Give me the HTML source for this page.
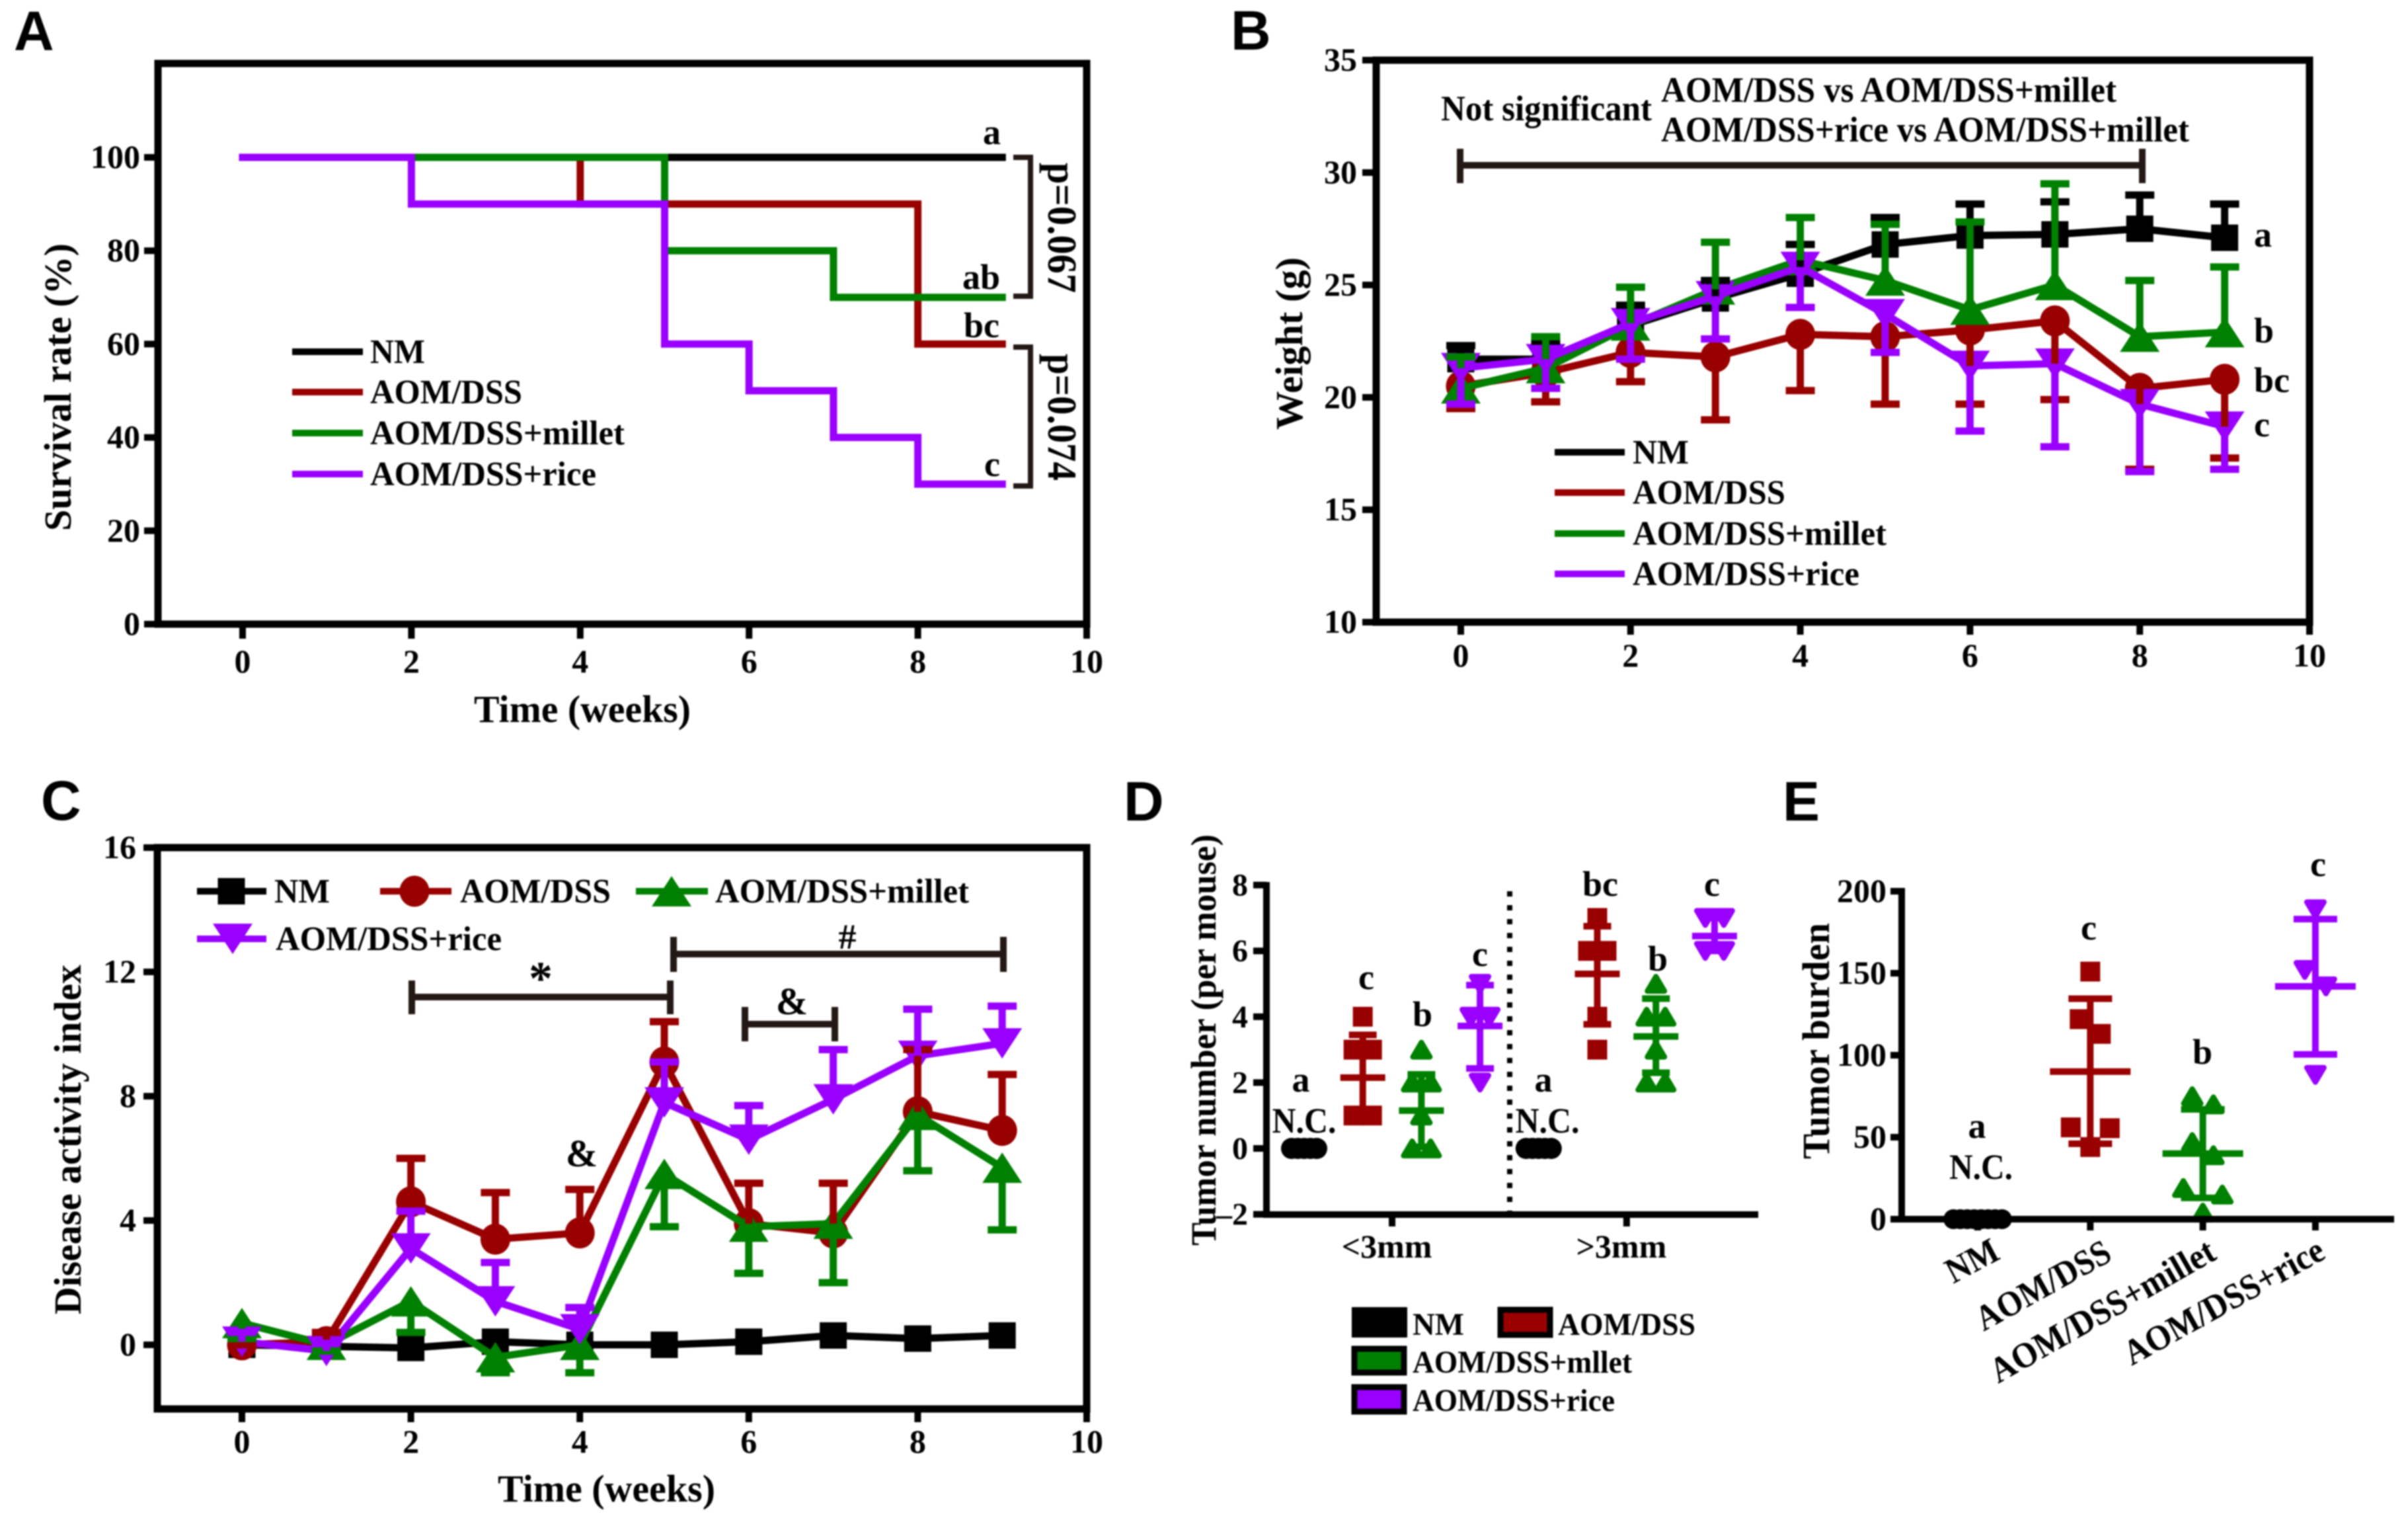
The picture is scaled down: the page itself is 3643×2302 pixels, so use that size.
<!DOCTYPE html>
<html lang="en">
<head>
<meta charset="utf-8">
<title>Survival, weight, disease activity and tumor outcomes</title>
<style>
html,body{margin:0;padding:0;background:#fff;}
svg{display:block;filter:blur(1px);}
text{font-family:"Liberation Serif",serif;font-weight:bold;fill:#000;}
.letter{font-family:"Liberation Sans",sans-serif;font-size:84px;}
.title{font-size:58px;}
.leg{font-size:52px;}
.ann{font-size:54px;}
.pval{font-size:62px;}
.br{fill:none;stroke:#231815;stroke-width:10;}
</style>
</head>
<body>
<svg id="figure" xmlns="http://www.w3.org/2000/svg" width="3643" height="2302" viewBox="0 0 3643 2302">
<rect width="3643" height="2302" fill="#fff"/>

<g id="panelA">
<text class="letter" x="21" y="76">A</text>
<rect x="239" y="96" width="1405" height="848" fill="none" stroke="#000" stroke-width="11"/>
<text class="title" x="717" y="1092" textLength="328" lengthAdjust="spacingAndGlyphs">Time (weeks)</text>
<text class="title" transform="translate(107,803) rotate(-90)" textLength="435" lengthAdjust="spacingAndGlyphs">Survival rate (%)</text>
<g id="seriesA"></g>
<g>
<line x1="442" x2="549" y1="532" y2="532" stroke="#000" stroke-width="10"/>
<text class="leg" x="560" y="549" textLength="83" lengthAdjust="spacingAndGlyphs">NM</text>
<line x1="442" x2="549" y1="593" y2="593" stroke="#900" stroke-width="10"/>
<text class="leg" x="560" y="610" textLength="230" lengthAdjust="spacingAndGlyphs">AOM/DSS</text>
<line x1="442" x2="549" y1="655" y2="655" stroke="#008000" stroke-width="10"/>
<text class="leg" x="560" y="672" textLength="385" lengthAdjust="spacingAndGlyphs">AOM/DSS+millet</text>
<line x1="442" x2="549" y1="717" y2="717" stroke="#90f" stroke-width="10"/>
<text class="leg" x="560" y="734" textLength="342" lengthAdjust="spacingAndGlyphs">AOM/DSS+rice</text>
</g>
<text class="ann" x="1487" y="218">a</text>
<text class="ann" x="1456" y="437">ab</text>
<text class="ann" x="1458" y="510">bc</text>
<text class="ann" x="1489" y="720">c</text>
<path class="br" style="stroke-width:8" d="M1533 238H1559V448H1533"/>
<path class="br" style="stroke-width:8" d="M1533 525H1559V735H1533"/>
<text class="pval" transform="translate(1586,246) rotate(90)" textLength="197" lengthAdjust="spacingAndGlyphs">p=0.067</text>
<text class="pval" transform="translate(1586,535) rotate(90)" textLength="192" lengthAdjust="spacingAndGlyphs">p=0.074</text>
</g>

<g id="panelB">
<text class="letter" x="1862" y="75">B</text>
<rect x="2082" y="91" width="1412" height="850" fill="none" stroke="#000" stroke-width="11"/>
<text class="title" transform="translate(1970,650) rotate(-90)" textLength="261" lengthAdjust="spacingAndGlyphs">Weight (g)</text>
<text class="ann" x="2180" y="182" textLength="319" lengthAdjust="spacingAndGlyphs">Not significant</text>
<text class="ann" x="2513" y="154" textLength="689" lengthAdjust="spacingAndGlyphs">AOM/DSS vs AOM/DSS+millet</text>
<text class="ann" x="2513" y="214" textLength="799" lengthAdjust="spacingAndGlyphs">AOM/DSS+rice vs AOM/DSS+millet</text>
<path class="br" d="M2209 225V277M2209 250H3241M3241 225V277"/>
<g id="seriesB"></g>
<g>
<line x1="2352" x2="2458" y1="684" y2="684" stroke="#000" stroke-width="10"/>
<text class="leg" x="2470" y="701" textLength="85" lengthAdjust="spacingAndGlyphs">NM</text>
<line x1="2352" x2="2458" y1="745" y2="745" stroke="#900" stroke-width="10"/>
<text class="leg" x="2470" y="762" textLength="231" lengthAdjust="spacingAndGlyphs">AOM/DSS</text>
<line x1="2352" x2="2458" y1="807" y2="807" stroke="#008000" stroke-width="10"/>
<text class="leg" x="2470" y="824" textLength="384" lengthAdjust="spacingAndGlyphs">AOM/DSS+millet</text>
<line x1="2352" x2="2458" y1="868" y2="868" stroke="#90f" stroke-width="10"/>
<text class="leg" x="2470" y="885" textLength="343" lengthAdjust="spacingAndGlyphs">AOM/DSS+rice</text>
</g>
<text class="ann" x="3410" y="373">a</text>
<text class="ann" x="3410" y="518">b</text>
<text class="ann" x="3410" y="593">bc</text>
<text class="ann" x="3410" y="660">c</text>
</g>

<g id="panelC">
<text class="letter" x="62" y="1240">C</text>
<rect x="238" y="1282" width="1406" height="849" fill="none" stroke="#000" stroke-width="11"/>
<text class="title" x="753" y="2271" textLength="329" lengthAdjust="spacingAndGlyphs">Time (weeks)</text>
<text class="title" transform="translate(122,1988) rotate(-90)" textLength="529" lengthAdjust="spacingAndGlyphs">Disease activity index</text>
<path class="br" d="M623 1483V1534M623 1508H1014M1014 1483V1534"/>
<text class="ann" x="818" y="1504" text-anchor="middle" style="font-size:72px">*</text>
<path class="br" d="M1019 1417V1470M1019 1443H1518M1518 1417V1470"/>
<text class="ann" x="1282" y="1435" text-anchor="middle">#</text>
<path class="br" d="M1127 1523V1575M1127 1549H1263M1263 1523V1575"/>
<text class="ann" x="1198" y="1534" text-anchor="middle" style="font-size:58px">&amp;</text>
<text class="ann" x="880" y="1764" text-anchor="middle" style="font-size:58px">&amp;</text>
<g id="seriesC"></g>
<g id="legendC">
<line x1="298" x2="403" y1="1348" y2="1348" stroke="#000" stroke-width="10"/>
<text class="leg" x="415" y="1365" textLength="84" lengthAdjust="spacingAndGlyphs">NM</text>
<line x1="575" x2="683" y1="1348" y2="1348" stroke="#900" stroke-width="10"/>
<text class="leg" x="696" y="1365" textLength="228" lengthAdjust="spacingAndGlyphs">AOM/DSS</text>
<line x1="962" x2="1071" y1="1348" y2="1348" stroke="#008000" stroke-width="10"/>
<text class="leg" x="1082" y="1365" textLength="384" lengthAdjust="spacingAndGlyphs">AOM/DSS+millet</text>
<line x1="298" x2="403" y1="1420" y2="1420" stroke="#90f" stroke-width="10"/>
<text class="leg" x="417" y="1437" textLength="342" lengthAdjust="spacingAndGlyphs">AOM/DSS+rice</text>
</g>
</g>

<g id="panelD">
<text class="letter" x="1700" y="1241">D</text>
<line x1="2284" x2="2284" y1="1348" y2="1837" stroke="#000" stroke-width="8" stroke-dasharray="8 13"/>
<text transform="translate(1839,1884) rotate(-90)" style="font-size:54px" textLength="622" lengthAdjust="spacingAndGlyphs">Tumor number (per mouse)</text>
<g id="seriesD"></g>
<line x1="1916" x2="1916" y1="1334" y2="1842" stroke="#000" stroke-width="10"/>
<line x1="1911" x2="2660" y1="1837" y2="1837" stroke="#000" stroke-width="10"/>
<g id="ticksD"></g>
<g style="font-size:54px">
<text x="1968" y="1651" text-anchor="middle">a</text>
<text x="1973" y="1713" text-anchor="middle" textLength="97" lengthAdjust="spacingAndGlyphs">N.C.</text>
<text x="2067" y="1496" text-anchor="middle">c</text>
<text x="2152" y="1552" text-anchor="middle">b</text>
<text x="2239" y="1461" text-anchor="middle">c</text>
<text x="2335" y="1651" text-anchor="middle">a</text>
<text x="2341" y="1713" text-anchor="middle" textLength="97" lengthAdjust="spacingAndGlyphs">N.C.</text>
<text x="2421" y="1355" text-anchor="middle">bc</text>
<text x="2508" y="1468" text-anchor="middle">b</text>
<text x="2590" y="1355" text-anchor="middle">c</text>
</g>
<g style="font-size:48px">
<rect x="2045" y="1977" width="84" height="46" fill="#000"/>
<text x="2137" y="2019" textLength="78" lengthAdjust="spacingAndGlyphs">NM</text>
<rect x="2270" y="1981" width="75" height="38" fill="#900" stroke="#000" stroke-width="9"/>
<text x="2357" y="2019" textLength="208" lengthAdjust="spacingAndGlyphs">AOM/DSS</text>
<rect x="2049" y="2040" width="75" height="36" fill="#008000" stroke="#000" stroke-width="9"/>
<text x="2137" y="2076" textLength="332" lengthAdjust="spacingAndGlyphs">AOM/DSS+mllet</text>
<rect x="2049" y="2098" width="75" height="37" fill="#90f" stroke="#000" stroke-width="9"/>
<text x="2137" y="2134" textLength="306" lengthAdjust="spacingAndGlyphs">AOM/DSS+rice</text>
</g>
</g>

<g id="panelE">
<text class="letter" x="2697" y="1241">E</text>
<text class="title" transform="translate(2767,1753) rotate(-90)" textLength="357" lengthAdjust="spacingAndGlyphs">Tumor burden</text>
<g id="seriesE"></g>
<line x1="2877" x2="2877" y1="1343" y2="1849" stroke="#000" stroke-width="10"/>
<line x1="2872" x2="3622" y1="1844" y2="1844" stroke="#000" stroke-width="10"/>
<g id="ticksE"></g>
<g style="font-size:54px">
<text x="2991" y="1721" text-anchor="middle">a</text>
<text x="2997" y="1783" text-anchor="middle" textLength="96" lengthAdjust="spacingAndGlyphs">N.C.</text>
<text x="3160" y="1421" text-anchor="middle">c</text>
<text x="3332" y="1609" text-anchor="middle">b</text>
<text x="3507" y="1325" text-anchor="middle">c</text>
</g>
<g style="font-size:54px">
<text transform="translate(2955,1942) rotate(-28)" textLength="83" lengthAdjust="spacingAndGlyphs">NM</text>
<text transform="translate(3001,2014) rotate(-29)" textLength="225" lengthAdjust="spacingAndGlyphs">AOM/DSS</text>
<text transform="translate(3023,2093) rotate(-29.7)" textLength="383" lengthAdjust="spacingAndGlyphs">AOM/DSS+millet</text>
<text transform="translate(3225,2066) rotate(-29)" textLength="338" lengthAdjust="spacingAndGlyphs">AOM/DSS+rice</text>
</g>
</g>
</svg>

<script>
/* ---------- shared series names ---------- */
const seriesKeys = ['nm', 'aom', 'millet', 'rice'];
const seriesColors = ['#000000', '#990000', '#008000', '#9900ff'];
const seriesShapes = ['square', 'circle', 'up', 'down'];

/* ---------- panel A: survival ---------- */
const survivalTimes = [
  [0, 9],
  [0, 4, 8, 9],
  [0, 5, 7, 9],
  [0, 2, 5, 6, 7, 8, 9]
];
const survivalRates = [
  [100, 100],
  [100, 90, 60, 60],
  [100, 80, 70, 70],
  [100, 90, 60, 50, 40, 30, 30]
];
const survivalXTicks = [0, 2, 4, 6, 8, 10];
const survivalYTicks = [0, 20, 40, 60, 80, 100];

/* ---------- panel B: weight ---------- */
const weeks = [0, 1, 2, 3, 4, 5, 6, 7, 8, 9];
const weightNm = [21.7, 21.7, 23.2, 24.4, 25.5, 26.8, 27.2, 27.25, 27.5, 27.1];
const weightAom = [20.5, 21.1, 22.0, 21.8, 22.8, 22.7, 23.0, 23.4, 20.4, 20.8];
const weightMillet = [20.4, 21.3, 23.2, 24.8, 26.1, 25.2, 23.9, 25.0, 22.7, 22.9];
const weightRice = [21.3, 21.7, 23.3, 24.5, 25.8, 23.7, 21.4, 21.5, 19.7, 18.7];
const weightNmErr = [22.3, 22.5, 24.1, 25.2, 26.8, 28.0, 28.6, 28.7, 29.0, 28.6];
const weightAomErr = [19.5, 19.8, 20.7, 19.0, 20.3, 19.7, 19.7, 19.9, 16.8, 17.3];
const weightMilletErr = [21.8, 22.7, 24.9, 26.9, 28.0, 27.7, 27.8, 29.5, 25.2, 25.8];
const weightRiceErr = [19.7, 20.4, 21.7, 22.6, 24.0, 22.0, 18.5, 17.8, 16.7, 16.8];
const weightXTicks = [0, 2, 4, 6, 8, 10];
const weightYTicks = [10, 15, 20, 25, 30, 35];

/* ---------- panel C: disease activity index ---------- */
const daiNm = [0, -0.05, -0.1, 0.1, 0, 0, 0.1, 0.3, 0.2, 0.3];
const daiAom = [0, 0.1, 4.6, 3.4, 3.6, 9.1, 3.9, 3.6, 7.5, 6.9];
const daiMillet = [0.7, 0, 1.4, -0.4, 0, 5.5, 3.8, 3.9, 7.4, 5.7];
const daiRice = [0.1, -0.2, 3.1, 1.4, 0.5, 7.8, 6.6, 7.9, 9.3, 9.7];
const daiAomErr = [0, 0.4, 6.0, 4.9, 5.0, 10.4, 5.2, 5.2, 9.5, 8.7];
const daiMilletErr = [0.2, -0.2, 0.4, -0.9, -0.9, 3.8, 2.3, 2.0, 5.6, 3.7];
const daiRiceErr = [0.4, 0.05, 4.3, 2.65, 1.2, 9.1, 7.7, 9.5, 10.8, 10.9];
const daiXTicks = [0, 2, 4, 6, 8, 10];
const daiYTicks = [0, 4, 8, 12, 16];

/* ---------- panel D: tumor number ---------- */
const countGroupSeries = [0, 1, 2, 3, 0, 1, 2, 3];
const countValues = [
  [0, 0, 0, 0, 0],
  [4, 3, 3, 1, 1],
  [3, 2, 2, 1, 0, 0],
  [5, 4, 4, 2],
  [0, 0, 0, 0, 0],
  [7, 6, 6, 4, 3],
  [5, 4, 4, 3, 2, 2],
  [7, 7, 6, 6]
];
const countMeans = [null, 2.15, 1.15, 3.72, null, 5.3, 3.4, 6.45];
const countUppers = [null, 3.45, 2.25, 4.96, null, 6.75, 4.55, 7.0];
const countLowers = [null, 0.85, 0.05, 2.43, null, 3.77, 2.3, 6.0];
const countYTicks = [8, 6, 4, 2, 0, -2];
const countYLabels = ['8', '6', '4', '2', '0', '\u20132'];
const countXLabels = ['<3mm', '>3mm'];

/* ---------- panel E: tumor burden ---------- */
const burdenValues = [
  [0, 0, 0, 0, 0, 0, 0, 0],
  [151, 122, 113, 56, 55.5, 44],
  [70, 75, 47, 39, 19, 15, 4],
  [189, 152, 142, 88]
];
const burdenMeans = [null, 90, 40, 142];
const burdenUppers = [null, 134.5, 67, 183];
const burdenLowers = [null, 46, 13, 100.5];
const burdenYTicks = [0, 50, 100, 150, 200];

/* ---------- axis functions ---------- */
const xA = v => 367 + v * 127.7;
const yA = v => 944 - v * 7.06;
const xB = v => 2210 + v * 128.4;
const yB = v => 941 - (v - 10) * 34;
const xC = v => 366 + v * 127.8;
const yC = v => 2034 - v * 47;
const xD = i => 1973 + i * 88.7;
const yD = v => 1737 - v * 49.8;
const xE = i => 2992 + i * 170.3;
const yE = v => 1844 - v * 2.48;

/* ---------- drawing helpers ---------- */
const NS = 'http://www.w3.org/2000/svg';
function el(tag, attrs, parent) {
  const node = document.createElementNS(NS, tag);
  for (const k in attrs) node.setAttribute(k, attrs[k]);
  parent.appendChild(node);
  return node;
}
function marker(shape, cx, cy, w, h, color, parent) {
  if (shape === 'square') return el('rect', {x: cx - w / 2, y: cy - h / 2, width: w, height: h, fill: color}, parent);
  if (shape === 'circle') return el('ellipse', {cx: cx, cy: cy, rx: w / 2, ry: h / 2, fill: color}, parent);
  const dir = shape === 'up' ? 1 : -1;
  const pts = [[cx - w / 2, cy + dir * h / 2], [cx + w / 2, cy + dir * h / 2], [cx, cy - dir * h / 2]];
  return el('polygon', {points: pts.map(p => p.join(',')).join(' '), fill: color}, parent);
}
function drawXTicks(ticks, labels, xf, axisY, tickEnd, baseY, parent, size, labelShift) {
  ticks.forEach((t, i) => {
    const tick = el('line', {x1: xf(t), x2: xf(t), y1: axisY, y2: tickEnd, stroke: '#000', 'stroke-width': 10}, parent);
    
    
    if (!labels) return;
    const lab = el('text', {x: xf(t) + (labelShift || 0), y: baseY, 'text-anchor': 'middle', 'font-size': size}, parent);
    lab.textContent = labels[i];
    
    
  });
}
function drawYTicks(ticks, labels, yf, axisX, tickStart, labelX, parent, size) {
  ticks.forEach((t, i) => {
    const tick = el('line', {x1: tickStart, x2: axisX, y1: yf(t), y2: yf(t), stroke: '#000', 'stroke-width': 10}, parent);
    
    
    const lab = el('text', {x: labelX, y: yf(t) + 16, 'text-anchor': 'end', 'font-size': size}, parent);
    lab.textContent = labels[i];
    
    
  });
}

/* ---------- panel A marks ---------- */
(function () {
  const g = document.getElementById('seriesA');
  survivalTimes.forEach((times, s) => {
    let d = 'M' + xA(times[0]) + ' ' + yA(survivalRates[s][0]);
    for (let i = 1; i < times.length; i++) {
      d += 'H' + xA(times[i]);
      d += 'V' + yA(survivalRates[s][i]);
    }
    const p = el('path', {d: d, fill: 'none', stroke: seriesColors[s], 'stroke-width': 11, 'stroke-linejoin': 'miter', 'stroke-linecap': 'square'}, g);
    
    
  });
  const parent = document.getElementById('panelA');
  drawXTicks(survivalXTicks, survivalXTicks.map(String), xA, 944, 966, 1017, parent, 50);
  drawYTicks(survivalYTicks, survivalYTicks.map(String), yA, 239, 218, 212, parent, 50);
})();

/* ---------- panels B and C marks ---------- */
function drawLineChart(gId, means, errs, xf, yf) {
  const g = document.getElementById(gId);
  means.forEach((vals, s) => {
    const line = el('polyline', {
      points: vals.map((v, i) => xf(weeks[i]) + ',' + yf(v)).join(' '),
      fill: 'none', stroke: seriesColors[s], 'stroke-width': 11, 'stroke-linejoin': 'round'
    }, g);
    
    
    vals.forEach((v, i) => {
      const shape = seriesShapes[s];
      const w = shape === 'square' ? 41 : (shape === 'circle' ? 45 : 60);
      const h = shape === 'square' ? 40 : (shape === 'circle' ? 47 : 46);
      const m = marker(shape, xf(weeks[i]), yf(v), w, h, seriesColors[s], g);
      
      
    });
  });
  errs.forEach((vals, s) => {
    if (!vals) return;
    vals.forEach((v, i) => {
      const x = xf(weeks[i]);
      const e = el('path', {
        d: 'M' + x + ' ' + yf(means[s][i]) + 'V' + yf(v) + 'M' + (x - 22) + ' ' + yf(v) + 'H' + (x + 22),
        fill: 'none', stroke: seriesColors[s], 'stroke-width': 11
      }, g);
      
      
    });
  });
}
drawLineChart('seriesB', [weightNm, weightAom, weightMillet, weightRice],
  [weightNmErr, weightAomErr, weightMilletErr, weightRiceErr], xB, yB);
drawLineChart('seriesC', [daiNm, daiAom, daiMillet, daiRice],
  [null, daiAomErr, daiMilletErr, daiRiceErr], xC, yC);
drawXTicks(weightXTicks, weightXTicks.map(String), xB, 941, 960, 1008, document.getElementById('panelB'), 50);
drawYTicks(weightYTicks, weightYTicks.map(String), yB, 2082, 2061, 2053, document.getElementById('panelB'), 50);
drawXTicks(daiXTicks, daiXTicks.map(String), xC, 2131, 2151, 2197, document.getElementById('panelC'), 50);
drawYTicks(daiYTicks, daiYTicks.map(String), yC, 238, 217, 206, document.getElementById('panelC'), 50);

/* legend markers for panel C */
(function () {
  const g = document.getElementById('legendC');
  const m1 = marker('square', 350, 1348, 41, 40, seriesColors[0], g);
  
  
  const m2 = marker('circle', 627, 1348, 45, 47, seriesColors[1], g);
  
  
  const m3 = marker('up', 1016, 1348, 60, 46, seriesColors[2], g);
  
  
  const m4 = marker('down', 352, 1420, 60, 46, seriesColors[3], g);
  
  
})();

/* ---------- panels D and E marks ---------- */
function swarmOffsets(values, yf, gapPx, spacing, wideSpacing, wideBelow) {
  const order = values.map((v, i) => i).sort((a, b) => values[b] - values[a]);
  const offsets = new Array(values.length).fill(0);
  let start = 0;
  for (let k = 1; k <= order.length; k++) {
    const closes = k === order.length || Math.abs(yf(values[order[k]]) - yf(values[order[k - 1]])) >= gapPx;
    if (!closes) continue;
    const members = order.slice(start, k);
    const n = members.length;
    let sp = spacing;
    if (n === 2 && Math.abs(values[members[0]] - values[members[1]]) <= wideBelow) sp = wideSpacing;
    members.forEach((idx, j) => { offsets[idx] = (j - (n - 1) / 2) * sp; });
    start = k;
  }
  return offsets;
}
function drawScatter(gId, groupSeries, values, means, uppers, lowers, xf, yf, opts) {
  const g = document.getElementById(gId);
  values.forEach((vals, i) => {
    const s = groupSeries[i];
    const isNm = s === 0;
    const spacing = isNm ? opts.nmSpacing : opts.spacing;
    const wide = isNm ? opts.nmSpacing : opts.wideSpacing;
    const off = swarmOffsets(vals, yf, opts.gap, spacing, wide, opts.wideBelow);
    const x = xf(i);
    vals.forEach((v, j) => {
      const shape = isNm ? 'circle' : seriesShapes[s === 1 ? 0 : s];
      const w = isNm ? opts.nmSize : (s === 1 ? 30 : 26);
      const h = isNm ? opts.nmSize : (s === 1 ? 30 : 22);
      const m = marker(shape, x + off[j], yf(v), w, h, seriesColors[s], g);
      m.setAttribute('stroke', seriesColors[s]);
      m.setAttribute('stroke-width', s >= 2 ? 8 : 0);
      m.setAttribute('stroke-linejoin', 'round');
      
      
    });
    if (means[i] === null) return;
    const hm = opts.meanWidth / 2;
    const hc = opts.capWidth / 2;
    const bar = el('path', {
      d: 'M' + x + ' ' + yf(uppers[i]) + 'V' + yf(lowers[i]) +
         'M' + (x - hc) + ' ' + yf(uppers[i]) + 'H' + (x + hc) +
         'M' + (x - hc) + ' ' + yf(lowers[i]) + 'H' + (x + hc),
      fill: 'none', stroke: seriesColors[s], 'stroke-width': 10
    }, g);
    
    
    const mean = el('line', {x1: x - hm, x2: x + hm, y1: yf(means[i]), y2: yf(means[i]), stroke: seriesColors[s], 'stroke-width': 10}, g);
    
    
  });
}
drawScatter('seriesD', countGroupSeries, countValues, countMeans, countUppers, countLowers, xD, yD,
  {gap: 10, spacing: 28, wideSpacing: 28, wideBelow: 0, nmSpacing: 9.5, nmSize: 32, meanWidth: 68, capWidth: 42});
drawScatter('seriesE', [0, 1, 2, 3], burdenValues, burdenMeans, burdenUppers, burdenLowers, xE, yE,
  {gap: 26, spacing: 32, wideSpacing: 59, wideBelow: 4.5, nmSpacing: 10.5, nmSize: 30, meanWidth: 122, capWidth: 66});

(function () {
  const td = document.getElementById('ticksD');
  drawYTicks(countYTicks, countYLabels, yD, 1916, 1896, 1888, td, 48);
  drawXTicks([1.5, 5.5], countXLabels, xD, 1837, 1855, 1902, td, 50, -8);
  const te = document.getElementById('ticksE');
  drawYTicks(burdenYTicks, burdenYTicks.map(String), yE, 2877, 2860, 2854, te, 50);
  drawXTicks([0, 1, 2, 3], null, xE, 1844, 1861, 1861, te, 10);
})();
</script>
</body>
</html>
